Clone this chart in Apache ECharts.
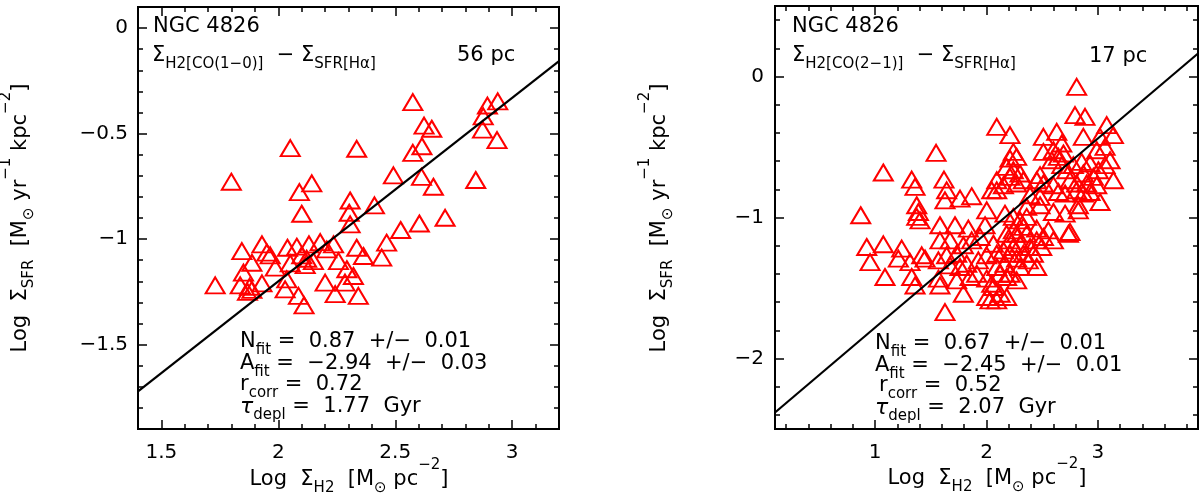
<!DOCTYPE html>
<html><head><meta charset="utf-8">
<script src="https://cdn.jsdelivr.net/npm/echarts@6/dist/echarts.min.js"></script>
<style>html,body{margin:0;padding:0;background:#fff}#c{width:1200px;height:493px}</style>
</head><body><div id="c"></div>
<script>
// ---- data ----
const leftPoints = [
[2.575,-0.351],[2.894,-0.367],[2.938,-0.347],[2.876,-0.418],[2.873,-0.481],[2.935,-0.531],[2.623,-0.462],[2.656,-0.477],
[2.614,-0.560],[2.575,-0.591],[2.844,-0.720],[2.492,-0.698],[2.612,-0.705],[2.663,-0.752],[2.713,-0.899],[2.603,-0.926],
[2.523,-0.957],[2.463,-1.017],[2.442,-1.088],[2.411,-0.840],[2.307,-0.817],[2.303,-0.875],[2.307,-0.930],[2.335,-0.572],
[2.051,-0.569],[1.799,-0.728],[2.090,-0.777],[2.143,-0.736],[2.100,-0.880],
[1.730,-1.219],[1.844,-1.057],[1.930,-1.025],[1.951,-1.064],[1.965,-1.077],[1.887,-1.112],[1.851,-1.159],[1.837,-1.219],
[1.877,-1.226],[1.887,-1.241],[1.868,-1.250],[1.930,-1.210],[1.987,-1.135],[2.039,-1.041],[2.079,-1.036],[2.131,-1.025],
[2.179,-1.014],[2.236,-1.025],[2.207,-1.049],[2.100,-1.077],[2.121,-1.093],[2.150,-1.104],[2.051,-1.115],[2.115,-1.123],
[2.036,-1.191],[2.029,-1.238],[2.086,-1.269],[2.110,-1.314],[2.200,-1.206],[2.243,-1.261],[2.257,-1.104],[2.293,-1.143],
[2.321,-1.175],[2.285,-1.206],[2.342,-1.269],[2.335,-1.041],[2.364,-1.080]
];
const rightPoints = [
[1.547,-0.542],[1.073,-0.681],[1.328,-0.731],[1.358,-0.783],[1.618,-0.731],[1.642,-0.807],[1.627,-0.878],[1.762,-0.866],
[1.867,-0.849],[1.373,-0.913],[1.388,-0.961],[1.403,-1.020],[1.373,-0.996],[0.870,-0.984],[2.002,-0.949],[2.047,-0.807],
[1.582,-1.055],[1.717,-1.055],[1.837,-1.079],[1.987,-1.055],[1.582,-1.162],[1.672,-1.162],[1.792,-1.197],[1.867,-1.162],
[1.942,-1.138],[0.924,-1.209],[1.073,-1.190],[1.238,-1.221],[0.954,-1.316],[1.208,-1.292],[1.313,-1.316],[1.418,-1.268],
[1.448,-1.292],[1.568,-1.304],[1.642,-1.268],[1.732,-1.257],[1.822,-1.328],[1.927,-1.304],[2.002,-1.268],[1.672,-1.340],
[1.762,-1.351],[1.088,-1.422],[1.328,-1.422],[1.358,-1.482],[1.568,-1.434],[1.582,-1.482],[1.732,-1.446],[1.852,-1.422],
[1.912,-1.399],[2.002,-1.434],[2.047,-1.470],[1.792,-1.541],[2.002,-1.564],[2.032,-1.588],[1.627,-1.671],
[2.810,-0.073],[2.795,-0.274],[2.885,-0.286],[2.092,-0.357],[2.211,-0.416],[3.080,-0.345],[3.140,-0.416],[2.511,-0.428],
[2.631,-0.393],[2.676,-0.475],[2.870,-0.428],[3.020,-0.428],[2.241,-0.535],[2.211,-0.582],[2.271,-0.570],[2.511,-0.535],
[2.601,-0.523],[2.691,-0.546],[2.990,-0.523],[3.065,-0.499],[2.181,-0.641],[2.241,-0.665],[2.301,-0.688],[2.211,-0.712],
[2.331,-0.736],[2.271,-0.759],[2.092,-0.736],[2.152,-0.771],[2.092,-0.807],[2.481,-0.700],[2.511,-0.759],[2.451,-0.736],
[2.586,-0.594],[2.646,-0.570],[2.676,-0.629],[2.721,-0.665],[2.780,-0.629],[2.855,-0.606],[2.930,-0.617],[2.870,-0.688],
[2.960,-0.712],[3.005,-0.665],[3.065,-0.629],[3.110,-0.594],[2.750,-0.736],[2.810,-0.759],[2.900,-0.759],[2.990,-0.771],
[3.140,-0.736],[2.601,-0.771],[2.646,-0.819],[2.706,-0.830],[2.810,-0.807],[2.870,-0.830],[2.930,-0.819],[3.020,-0.890],
[2.391,-0.842],[2.481,-0.854],[2.825,-0.913],
[2.825,-0.949],[2.706,-0.973],[2.601,-0.961],[2.481,-0.913],[2.361,-0.925],[2.166,-0.973],[2.750,-1.103],[2.736,-1.115],
[2.601,-1.162],[2.511,-1.138],[2.451,-1.079],[2.331,-1.067],[2.241,-1.091],[2.211,-1.162],[2.301,-1.186],[2.391,-1.209],
[2.152,-1.233],[2.211,-1.257],[2.271,-1.292],[2.451,-1.351],[2.092,-1.351],[2.122,-1.399],[2.181,-1.422],[2.271,-1.446],
[2.062,-1.493],[2.122,-1.541],[2.181,-1.564],[2.092,-1.588],[2.062,-1.186],[2.092,-1.257],
[2.241,-0.996],[2.301,-1.020],[2.271,-1.115],[2.361,-1.115],[2.331,-1.257],[2.421,-1.257],[2.376,-1.304],[2.301,-1.351],
[2.211,-1.399],[2.166,-1.328],[2.451,-1.162],[2.556,-1.091],[2.496,-1.209],[2.241,-1.209],[2.181,-1.115],[2.361,-0.996]
];
const leftFit = [[1.4,-1.722],[3.2,-0.156]];
const rightFit = [[0.1,-2.383],[3.9,0.163]];

const leftXRange = [1.4, 3.2];
const leftYRange = [-1.9, 0.1];
const rightXRange = [0.1, 3.9];
const rightYRange = [-2.5, 0.5];

const leftXMajor = [1.5, 2, 2.5, 3];
const leftXMinor = [1.6,1.7,1.8,1.9,2.1,2.2,2.3,2.4,2.6,2.7,2.8,2.9,3.1];
const leftYMajor = [0, -0.5, -1, -1.5];
const leftYMinor = [-0.1,-0.2,-0.3,-0.4,-0.6,-0.7,-0.8,-0.9,-1.1,-1.2,-1.3,-1.4,-1.6,-1.7,-1.8];
const rightXMajor = [1, 2, 3];
const rightXMinor = [0.2,0.4,0.6,0.8,1.2,1.4,1.6,1.8,2.2,2.4,2.6,2.8,3.2,3.4,3.6,3.8];
const rightYMajor = [0, -1, -2];
const rightYMinor = [0.4,0.2,-0.2,-0.4,-0.6,-0.8,-1.2,-1.4,-1.6,-1.8,-2.2,-2.4];

// ---- chart ----
const F = '"DejaVu Sans", "Liberation Sans", sans-serif';
const chart = echarts.init(document.getElementById('c'), null, {renderer: 'canvas', width: 1200, height: 493});
const fmt = v => String(v).replace('-', '\u2212');

const rects = [
  {left: 138, top: 7, width: 421, height: 422},
  {left: 775, top: 6, width: 423, height: 423}
];
const grids = [];
rects.forEach(r => {
  grids.push(Object.assign({show: true, borderColor: '#000', borderWidth: 2, backgroundColor: 'transparent', containLabel: false}, r));
  grids.push(Object.assign({show: false, containLabel: false}, r));
});

function axis(gridIndex, position, range, ticks, len, labels, margin) {
  return {
    type: 'value', gridIndex, position, min: range[0], max: range[1],
    axisLine: {show: false, onZero: false},
    splitLine: {show: false},
    axisTick: {show: true, inside: true, length: len, customValues: ticks, lineStyle: {color: '#000', width: 1.5}},
    axisLabel: labels ? {show: true, customValues: ticks, formatter: fmt, color: '#000', fontSize: 20, fontFamily: F, margin: margin}
                      : {show: false}
  };
}
const MAJ = 9, MIN = 5;
const xAxis = [
  axis(0, 'bottom', leftXRange, leftXMajor, MAJ, true, 14),
  axis(0, 'top', leftXRange, leftXMajor, MAJ, false),
  axis(1, 'bottom', leftXRange, leftXMinor, MIN, false),
  axis(1, 'top', leftXRange, leftXMinor, MIN, false),
  axis(2, 'bottom', rightXRange, rightXMajor, MAJ, true, 14),
  axis(2, 'top', rightXRange, rightXMajor, MAJ, false),
  axis(3, 'bottom', rightXRange, rightXMinor, MIN, false),
  axis(3, 'top', rightXRange, rightXMinor, MIN, false)
];
const yAxis = [
  axis(0, 'left', leftYRange, leftYMajor, MAJ, true, 10),
  axis(0, 'right', leftYRange, leftYMajor, MAJ, false),
  axis(1, 'left', leftYRange, leftYMinor, MIN, false),
  axis(1, 'right', leftYRange, leftYMinor, MIN, false),
  axis(2, 'left', rightYRange, rightYMajor, MAJ, true, 11),
  axis(2, 'right', rightYRange, rightYMajor, MAJ, false),
  axis(3, 'left', rightYRange, rightYMinor, MIN, false),
  axis(3, 'right', rightYRange, rightYMinor, MIN, false)
];

const tri = {
  type: 'scatter', symbol: 'triangle', symbolSize: [19, 16],
  itemStyle: {color: 'rgba(255,255,255,0)', borderColor: '#ff0000', borderWidth: 2, opacity: 1},
  emphasis: {disabled: true}, z: 2
};
const fitLine = {
  type: 'line', symbol: 'none', lineStyle: {color: '#000', width: 2.2}, z: 3, silent: true
};
const series = [
  Object.assign({}, tri, {xAxisIndex: 0, yAxisIndex: 0, data: leftPoints}),
  Object.assign({}, fitLine, {xAxisIndex: 0, yAxisIndex: 0, data: leftFit}),
  Object.assign({}, tri, {xAxisIndex: 4, yAxisIndex: 4, data: rightPoints}),
  Object.assign({}, fitLine, {xAxisIndex: 4, yAxisIndex: 4, data: rightFit})
];

const rich = {
  m: {fontSize: 21, lineHeight: 44, fontFamily: F, color: '#000'},
  b: {fontSize: 15, verticalAlign: 'bottom', padding: [0, 0, 6, 0], fontFamily: F, color: '#000'},
  p: {fontSize: 15, verticalAlign: 'top', fontFamily: F, color: '#000'},
  t: {fontSize: 22, lineHeight: 44, fontStyle: 'italic', fontFamily: F, color: '#000'}
};
function txt(x, y, text, align, rot) {
  return {type: 'text', x, y, rotation: rot || 0, silent: true, z: 10,
    style: {text, rich, align: align || 'left', verticalAlign: 'middle', fill: '#000', font: '21px ' + F}};
}
const M = '\u2212';
const graphic = [
  txt(153, 27, '{m|NGC 4826}'),
  txt(152, 56, '{m|\u03a3}{b|H2[CO(1' + M + '0)]}{m|  ' + M + ' \u03a3}{b|SFR[H\u03b1]}'),
  txt(457, 56, '{m|56 pc}'),
  txt(240, 342, '{m|N}{b|fit}{m| =  0.87  +/' + M + '  0.01}'),
  txt(240, 364, '{m|A}{b|fit}{m| =  ' + M + '2.94  +/' + M + '  0.03}'),
  txt(240, 385, '{m|r}{b|corr}{m| =  0.72}'),
  txt(240, 407, '{t|\u03c4}{b|depl}{m| =  1.77  Gyr}'),

  txt(792, 27, '{m|NGC 4826}'),
  txt(792, 56, '{m|\u03a3}{b|H2[CO(2' + M + '1)]}{m|  ' + M + ' \u03a3}{b|SFR[H\u03b1]}'),
  txt(1089, 57, '{m|17 pc}'),
  txt(875, 344, '{m|N}{b|fit}{m| =  0.67  +/' + M + '  0.01}'),
  txt(875, 366, '{m|A}{b|fit}{m| =  ' + M + '2.45  +/' + M + '  0.01}'),
  txt(879, 386, '{m|r}{b|corr}{m| =  0.52}'),
  txt(875, 408, '{t|\u03c4}{b|depl}{m| =  2.07  Gyr}'),

  txt(349, 480, '{m|Log  \u03a3}{b|H2}{m|  [M}{b|\u2299}{m| pc}{p|' + M + '2}{m|]}', 'center'),
  txt(987, 479, '{m|Log  \u03a3}{b|H2}{m|  [M}{b|\u2299}{m| pc}{p|' + M + '2}{m|]}', 'center'),
  txt(21, 218, '{m|Log  \u03a3}{b|SFR}{m|  [M}{b|\u2299}{m| yr}{p|' + M + '1}{m| kpc}{p|' + M + '2}{m|]}', 'center', Math.PI / 2),
  txt(660, 218, '{m|Log  \u03a3}{b|SFR}{m|  [M}{b|\u2299}{m| yr}{p|' + M + '1}{m| kpc}{p|' + M + '2}{m|]}', 'center', Math.PI / 2)
];

chart.setOption({
  animation: false,
  backgroundColor: '#fff',
  grid: grids,
  xAxis, yAxis, series, graphic
});
</script>
</body></html>
